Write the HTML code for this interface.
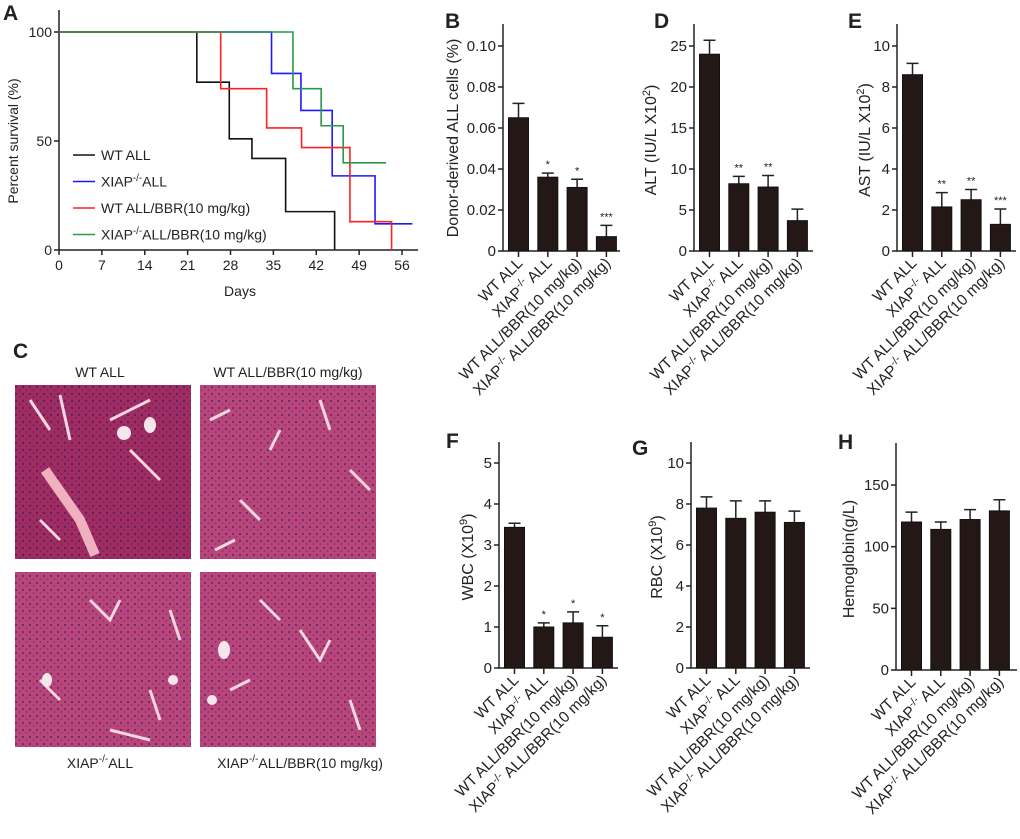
<!DOCTYPE html>
<html><head><meta charset="utf-8"><style>
body{margin:0;background:#fff}
svg text{font-family:"Liberation Sans",Arial,sans-serif;fill:#222}
</style></head><body>
<svg id="fig" width="1020" height="834" viewBox="0 0 1020 834" xmlns="http://www.w3.org/2000/svg">
<defs>
<pattern id="cells" width="7" height="7" patternUnits="userSpaceOnUse">
<rect width="7" height="7" fill="#b8467a"/>
<circle cx="2" cy="2" r="1.1" fill="#6a2a70"/>
<circle cx="5.5" cy="5" r="0.9" fill="#8a2f62"/>
</pattern>
<pattern id="cells2" width="7" height="7" patternUnits="userSpaceOnUse">
<rect width="7" height="7" fill="#a02c62"/>
<circle cx="2" cy="2" r="1.2" fill="#5e2066"/>
<circle cx="5.5" cy="5" r="1" fill="#7c2456"/>
</pattern>
</defs>
<g id="letters" font-weight="bold" font-size="21">
<text x="3" y="20">A</text>
<text x="445" y="28">B</text>
<text x="654" y="28">D</text>
<text x="848" y="28">E</text>
<text x="13" y="358">C</text>
<text x="446" y="448">F</text>
<text x="632" y="455">G</text>
<text x="838" y="449">H</text>
</g>
<g id="panelA"></g>
<g id="panelC">
<text x="100" y="377" text-anchor="middle" font-size="14">WT ALL</text>
<text x="288" y="377" text-anchor="middle" font-size="14">WT ALL/BBR(10 mg/kg)</text>
<rect x="15" y="385" width="176" height="174" fill="url(#cells2)"/>
<rect x="200" y="385" width="176" height="174" fill="url(#cells)"/>
<rect x="15" y="572" width="176" height="175" fill="url(#cells)"/>
<rect x="200" y="572" width="176" height="175" fill="url(#cells)"/>
<g fill="none" stroke="#f3d6e0" stroke-width="3">
<path d="M45 470 L80 520 L95 555" stroke-width="10" stroke="#f0b0c0"/>
<path d="M30 400 L50 430 M60 395 L70 440 M110 420 L150 400 M130 450 L160 480 M40 520 L60 540"/>
<path d="M210 420 L230 410 M270 450 L280 430 M320 400 L330 430 M240 500 L260 520 M350 470 L370 490 M215 550 L235 540"/>
<path d="M90 600 L110 620 L120 600 M170 610 L180 640 M40 680 L60 700 M150 690 L160 720 M110 730 L150 740"/>
<path d="M300 630 L320 660 L330 640 M230 690 L250 680 M350 700 L360 730 M260 600 L280 620"/>
</g>
<g fill="#f5e6ec">
<circle cx="124" cy="433" r="7"/><ellipse cx="150" cy="425" rx="6" ry="8"/>
<ellipse cx="47" cy="680" rx="5" ry="7"/><circle cx="173" cy="680" r="5"/>
<ellipse cx="224" cy="650" rx="6" ry="9"/><circle cx="212" cy="700" r="5"/>
</g>
<text x="100" y="768" text-anchor="middle" font-size="14">XIAP<tspan dy="-6" font-size="10">-/-</tspan><tspan dy="6">ALL</tspan></text>
<text x="300" y="768" text-anchor="middle" font-size="14">XIAP<tspan dy="-6" font-size="10">-/-</tspan><tspan dy="6">ALL/BBR(10 mg/kg)</tspan></text>
</g>
</svg>
<script>
const NS="http://www.w3.org/2000/svg";
// ---- Panel A data ----
const survNames=["WT ALL","XIAP-/-ALL","WT ALL/BBR(10 mg/kg)","XIAP-/-ALL/BBR(10 mg/kg)"];
const survColors=["#111","#1a1aff","#ff2020","#2a9a4a"];
const survDays=[[0,22.5,27.8,31.5,37,45,45],[0,34.7,39.5,44.6,51.6,57.7],[0,26.4,33.9,39.6,47.5,54.3,54.3],[0,38.2,42.8,46.4,53.4]];
const survPct=[[100,77,51,42,17.6,0,0],[100,81,64,34,12,12],[100,74,56,47,13,0,0],[100,74,57,40,40]];
const dayTicks=[0,7,14,21,28,35,42,49,56];
const pctTicks=[0,50,100];
// ---- Bar panel data ----
const cats=["WT ALL","XIAP-/- ALL","WT ALL/BBR(10 mg/kg)","XIAP-/- ALL/BBR(10 mg/kg)"];
const valsB=[0.065,0.036,0.031,0.007], errB=[0.072,0.038,0.035,0.0125], starsB=["","*","*","***"], ticksB=[0,0.02,0.04,0.06,0.08,0.10], tickLabB=["0","0.02","0.04","0.06","0.08","0.10"];
const valsD=[24,8.2,7.8,3.7], errD=[25.7,9.1,9.2,5.1], starsD=["","**","**",""], ticksD=[0,5,10,15,20,25];
const valsE=[8.6,2.15,2.5,1.3], errE=[9.15,2.85,3.0,2.05], starsE=["","**","**","***"], ticksE=[0,2,4,6,8,10];
const valsF=[3.43,1.0,1.1,0.75], errF=[3.53,1.1,1.37,1.03], starsF=["","*","*","*"], ticksF=[0,1,2,3,4,5];
const valsG=[7.8,7.3,7.6,7.1], errG=[8.35,8.15,8.15,7.65], starsG=["","","",""], ticksG=[0,2,4,6,8,10];
const valsH=[120,114,122,129], errH=[128,120,130,138], starsH=["","","",""], ticksH=[0,50,100,150];

function el(tag,attrs,parent){const e=document.createElementNS(NS,tag);for(const k in attrs)e.setAttribute(k,attrs[k]);if(parent)parent.appendChild(e);return e;}
function supText(parent,str,x,y,size,extra){
  const t=el("text",Object.assign({x:x,y:y,"font-size":size},extra||{}),parent);
  const i=str.indexOf("-/-");
  if(i<0){t.textContent=str;return t;}
  const a=el("tspan",{},t);a.textContent=str.slice(0,i);
  const b=el("tspan",{dy:-size*0.4,"font-size":size*0.7},t);b.textContent="-/-";
  const c=el("tspan",{dy:size*0.4},t);c.textContent=str.slice(i+3);
  return t;
}
// ---- Panel A ----
(function(){
  const g=document.getElementById("panelA");
  const x0=59,y0=250,pxDay=6.125,yTop=32;
  const X=d=>x0+d*pxDay, Y=p=>y0-(p/100)*(y0-yTop);
  const ax=el("path",{d:`M${x0} 10 V${y0} H418`,stroke:"#222","stroke-width":1.5,fill:"none"},g);
  
  
  pctTicks.forEach(p=>{
    el("line",{x1:x0-5,x2:x0,y1:Y(p),y2:Y(p),stroke:"#222","stroke-width":1.5},g);
    const t=el("text",{x:x0-7,y:Y(p)+5,"text-anchor":"end","font-size":14},g);t.textContent=p;
    
    
  });
  dayTicks.forEach(d=>{
    el("line",{x1:X(d),x2:X(d),y1:y0,y2:y0+5,stroke:"#222","stroke-width":1.5},g);
    const t=el("text",{x:X(d),y:y0+20,"text-anchor":"middle","font-size":14},g);t.textContent=d;
    
    
  });
  const xt=el("text",{x:240,y:296,"text-anchor":"middle","font-size":14},g);xt.textContent="Days";
  
  
  const yt=el("text",{x:0,y:0,"text-anchor":"middle","font-size":14,transform:"translate(18,141) rotate(-90)"},g);yt.textContent="Percent survival (%)";
  
  
  survDays.forEach((ds,i)=>{
    let d=`M${X(ds[0])} ${Y(survPct[i][0])}`;
    for(let k=1;k<ds.length;k++){d+=` H${X(ds[k])} V${Y(survPct[i][k])}`;}
    const p=el("path",{d:d,stroke:survColors[i],"stroke-width":1.6,fill:"none"},g);
    
    
  });
  survNames.forEach((n,i)=>{
    const yy=155+i*26.5;
    const l=el("line",{x1:73,x2:95,y1:yy,y2:yy,stroke:survColors[i],"stroke-width":1.6},g);
    
    
    const t=supText(g,n,101,yy+5,14);
    
    
  });
})();
// ---- bar panels ----
function barPanel(o){
  const svg=document.getElementById("fig");
  const g=el("g",{},svg);
  
  
  const maxT=o.ticks[o.ticks.length-1];
  const Y=v=>o.y0-(v/maxT)*(o.y0-o.yMaxPx);
  const ax=el("path",{d:`M${o.ax} ${o.top} V${o.y0} H${o.xEnd}`,stroke:"#222","stroke-width":1.5,fill:"none"},g);
  
  
  o.ticks.forEach((t,i)=>{
    el("line",{x1:o.ax-5,x2:o.ax,y1:Y(t),y2:Y(t),stroke:"#222","stroke-width":1.5},g);
    const tx=el("text",{x:o.ax-7,y:Y(t)+5,"text-anchor":"end","font-size":15},g);
    tx.textContent=o.tickLab?o.tickLab[i]:t;
    
    
  });
  const bw=20;
  o.vals.forEach((v,i)=>{
    const cx=o.ax+15.5+i*29.3;
    const e=el("path",{d:`M${cx} ${Y(v)} V${Y(o.err[i])} M${cx-6} ${Y(o.err[i])} H${cx+6}`,stroke:"#222","stroke-width":1.5},g);
    
    
    const r=el("rect",{x:cx-bw/2,y:Y(v),width:bw,height:o.y0-Y(v),fill:"#231816",stroke:"#111","stroke-width":1},g);
    
    
    el("line",{x1:cx,x2:cx,y1:o.y0,y2:o.y0+6,stroke:"#222","stroke-width":1.5},g);
    if(o.stars[i]){
      const s=el("text",{x:cx,y:Y(o.err[i])-5,"text-anchor":"middle","font-size":11},g);s.textContent=o.stars[i];
      
      
    }
    const lab=supText(g,cats[i],0,0,15.5,{"text-anchor":"end",transform:`translate(${cx+5},${o.y0+13}) rotate(-45)`});
    
    
  });
  const t=el("text",{x:0,y:0,"text-anchor":"middle","font-size":16,transform:`translate(${o.titleX},${o.titleY}) rotate(-90)`},g);
  if(o.titleSup){
    const a=el("tspan",{},t);a.textContent=o.title;
    const b=el("tspan",{dy:-6,"font-size":11},t);b.textContent=o.titleSup;
    const c=el("tspan",{dy:6},t);c.textContent=")";
  } else t.textContent=o.title;
  
  
}
barPanel({name:"chart-b-donor-cells",ax:503,top:24,y0:251,yMaxPx:46,xEnd:620,vals:valsB,err:errB,stars:starsB,ticks:ticksB,tickLab:tickLabB,title:"Donor-derived ALL cells (%)",titleX:458,titleY:138});
barPanel({name:"chart-d-alt",ax:694,top:24,y0:251,yMaxPx:46,xEnd:813,vals:valsD,err:errD,stars:starsD,ticks:ticksD,title:"ALT (IU/L X10",titleSup:"2",titleX:656,titleY:140});
barPanel({name:"chart-e-ast",ax:897,top:24,y0:251,yMaxPx:46,xEnd:1016,vals:valsE,err:errE,stars:starsE,ticks:ticksE,title:"AST (IU/L X10",titleSup:"2",titleX:870,titleY:140});
barPanel({name:"chart-f-wbc",ax:499,top:442,y0:668,yMaxPx:463,xEnd:618,vals:valsF,err:errF,stars:starsF,ticks:ticksF,title:"WBC (X10",titleSup:"9",titleX:473,titleY:557});
barPanel({name:"chart-g-rbc",ax:691,top:442,y0:668,yMaxPx:463,xEnd:810,vals:valsG,err:errG,stars:starsG,ticks:ticksG,title:"RBC (X10",titleSup:"9",titleX:662,titleY:557});
barPanel({name:"chart-h-hemoglobin",ax:896,top:443,y0:670,yMaxPx:485,xEnd:1017,vals:valsH,err:errH,stars:starsH,ticks:ticksH,title:"Hemoglobin(g/L)",titleX:854,titleY:559});
</script>
</body></html>
